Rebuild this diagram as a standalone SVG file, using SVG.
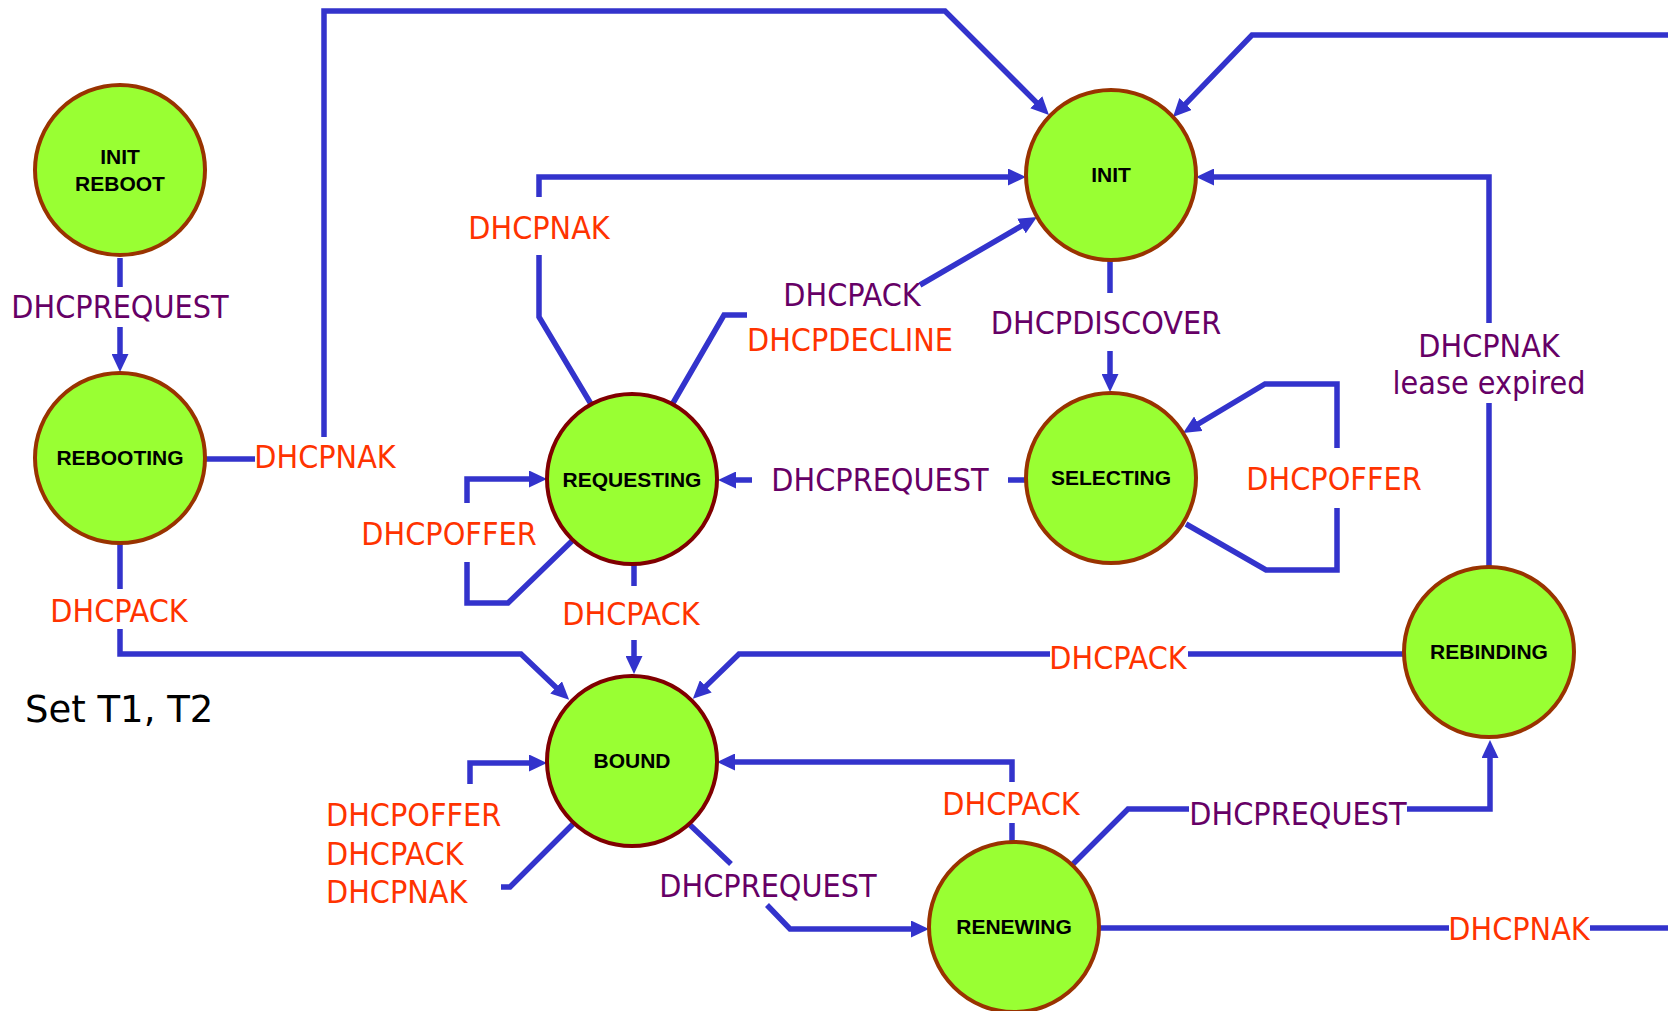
<svg xmlns="http://www.w3.org/2000/svg" width="1668" height="1011" viewBox="0 0 1668 1011">
  <style>
    .state { fill: #99FF33; stroke: #993300; stroke-width: 4; }
    .state.dark { stroke: #800000; }
    .name { font-family: "Liberation Sans", Arial, sans-serif; font-weight: bold; font-size: 21px; fill: #000; text-anchor: middle; }
    .edge { fill: none; stroke: #3333CC; stroke-width: 5.5; stroke-linejoin: miter; }
    .lbl { font-family: "DejaVu Sans Condensed", "DejaVu Sans", sans-serif; font-stretch: condensed; font-size: 32px; text-anchor: middle; }
    .lbl.left { text-anchor: start; }
    .send { fill: #660066; }
    .recv { fill: #FF3300; }
    .note { font-family: "DejaVu Sans", sans-serif; font-size: 37px; fill: #000; }
  </style>
  <defs>
    <marker id="arrow" markerUnits="userSpaceOnUse" markerWidth="18" markerHeight="17" refX="4" refY="8.5" orient="auto">
      <path d="M0,0 L18,8.5 L0,17 z" fill="#3333CC"/>
    </marker>
  </defs>

  <rect width="1668" height="1011" fill="#FFFFFF"/>

  <!-- transitions -->
  <g id="connectors">
    <path class="edge" marker-end="url(#arrow)" d="M120,258 V287 M120,327 V358"/>
    <path class="edge" marker-end="url(#arrow)" d="M206,459 H255 M324,437 V11 H945 L1039.1,105.1"/>
    <path class="edge" marker-end="url(#arrow)" d="M591,404 L539,317 V255 M539,197 V177 H1012"/>
    <path class="edge" marker-end="url(#arrow)" d="M673,403 L724,315 H747 M920,285 L1024.9,224"/>
    <path class="edge" marker-end="url(#arrow)" d="M1110,260 V293 M1110,351 V378"/>
    <path class="edge" marker-end="url(#arrow)" d="M1026,480 H1008 M752,480 H732"/>
    <path class="edge" marker-end="url(#arrow)" d="M1186,524 L1266,570 H1337 V508 M1337,448 V384 H1265 L1195,425.8"/>
    <path class="edge" marker-end="url(#arrow)" d="M573,540 L508,603 H467 V562 M467,503 V479 H533"/>
    <path class="edge" marker-end="url(#arrow)" d="M634,564 V586 M634,640 V660"/>
    <path class="edge" marker-end="url(#arrow)" d="M120,543 V589 M120,629 V654 H521 L559,690.2"/>
    <path class="edge" marker-end="url(#arrow)" d="M1404,654 H1188 M1050,654 H739 L702.9,689.1"/>
    <path class="edge" marker-end="url(#arrow)" d="M689,824 L731,864 M767,905 L790,929 H915"/>
    <path class="edge" marker-end="url(#arrow)" d="M1012,842 V823 M1012,782 V762 H731"/>
    <path class="edge" marker-end="url(#arrow)" d="M1073,864 L1128,809 H1189 M1407,809 H1490 V754"/>
    <path class="edge" marker-end="url(#arrow)" d="M1099,928 H1449 M1590,928 H1668 M1668,35 H1252 L1182.7,106.9"/>
    <path class="edge" marker-end="url(#arrow)" d="M1489,567 V403 M1489,323 V177 H1210"/>
    <path class="edge" marker-end="url(#arrow)" d="M574,823 L510,887 H501 M470,784 V763 H533"/>

    <text class="lbl send" x="120" y="318">DHCPREQUEST</text>
    <text class="lbl recv" x="325" y="468">DHCPNAK</text>
    <text class="lbl recv" x="539" y="239">DHCPNAK</text>
    <text class="lbl send" x="852" y="306">DHCPACK</text>
    <text class="lbl recv" x="850" y="351">DHCPDECLINE</text>
    <text class="lbl send" x="1106" y="334">DHCPDISCOVER</text>
    <text class="lbl send" x="880" y="491">DHCPREQUEST</text>
    <text class="lbl recv" x="1334" y="490">DHCPOFFER</text>
    <text class="lbl recv" x="449" y="545">DHCPOFFER</text>
    <text class="lbl recv" x="631" y="625">DHCPACK</text>
    <text class="lbl recv" x="119" y="622">DHCPACK</text>
    <text class="lbl recv" x="1118" y="669">DHCPACK</text>
    <text class="lbl send" x="768" y="897">DHCPREQUEST</text>
    <text class="lbl recv" x="1011" y="815">DHCPACK</text>
    <text class="lbl send" x="1298" y="825">DHCPREQUEST</text>
    <text class="lbl recv" x="1519" y="940">DHCPNAK</text>
    <text class="lbl send" x="1489" y="357">DHCPNAK</text>
    <text class="lbl send" x="1489" y="394">lease expired</text>
    <text class="lbl recv left" x="326" y="826">DHCPOFFER</text>
    <text class="lbl recv left" x="326" y="865">DHCPACK</text>
    <text class="lbl recv left" x="326" y="903">DHCPNAK</text>
  </g>

  <!-- states -->
  <g id="init-reboot">
    <circle class="state" cx="120" cy="170" r="85"/>
    <text class="name" x="120" y="164">INIT</text>
    <text class="name" x="120" y="191">REBOOT</text>
  </g>
  <g id="rebooting">
    <circle class="state" cx="120" cy="458" r="85"/>
    <text class="name" x="120" y="465">REBOOTING</text>
  </g>
  <g id="requesting">
    <circle class="state dark" cx="632" cy="479" r="85"/>
    <text class="name" x="632" y="487">REQUESTING</text>
  </g>
  <g id="init">
    <circle class="state" cx="1111" cy="175" r="85"/>
    <text class="name" x="1111" y="182">INIT</text>
  </g>
  <g id="selecting">
    <circle class="state" cx="1111" cy="478" r="85"/>
    <text class="name" x="1111" y="485">SELECTING</text>
  </g>
  <g id="bound">
    <circle class="state dark" cx="632" cy="761" r="85"/>
    <text class="name" x="632" y="768">BOUND</text>
  </g>
  <g id="renewing">
    <circle class="state" cx="1014" cy="927" r="85"/>
    <text class="name" x="1014" y="934">RENEWING</text>
  </g>
  <g id="rebinding">
    <circle class="state" cx="1489" cy="652" r="85"/>
    <text class="name" x="1489" y="659">REBINDING</text>
  </g>

  <g id="timer-note">
    <text class="note" x="25" y="722">Set T1, T2</text>
  </g>
</svg>
